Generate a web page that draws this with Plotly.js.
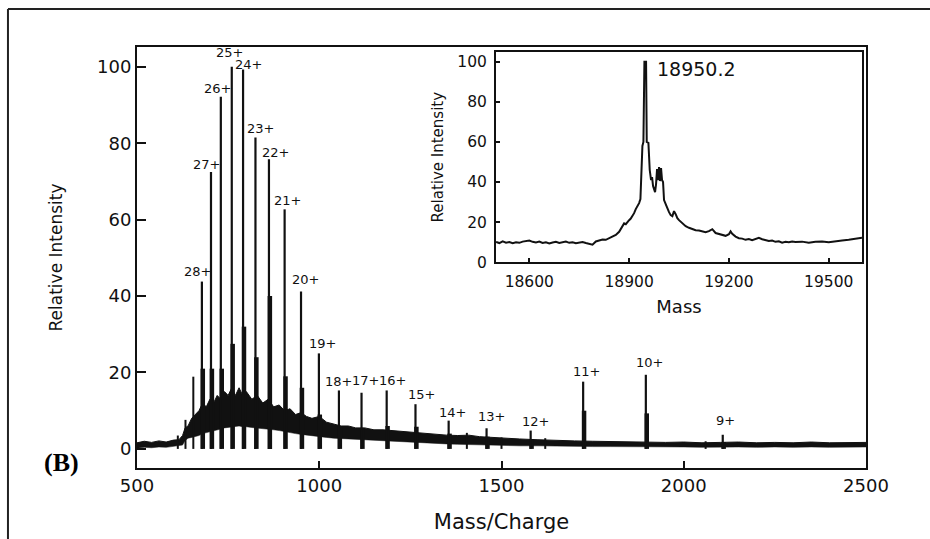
<!DOCTYPE html>
<html>
<head>
<meta charset="utf-8">
<script src="https://cdn.plot.ly/plotly-3.0.1.min.js"></script>
<style>html,body{margin:0;padding:0;background:#fff;}#chart{width:930px;height:539px;}</style>
</head>
<body>
<div id="chart"></div>
<script>
// ---------- DATA ----------
// main charge-state peaks
const peakMz     = [678, 703, 730, 760, 791, 825, 862, 905, 950, 999, 1054, 1116, 1185, 1264, 1355, 1459, 1580, 1724, 1896, 2107];
const peakInt    = [43.8, 72.5, 92.2, 100, 99.3, 81.5, 75.8, 62.7, 41.2, 25.0, 15.3, 14.7, 15.3, 11.7, 7.4, 5.4, 4.8, 17.6, 19.4, 3.7];
const peakLabels = ["28+","27+","26+","25+","24+","23+","22+","21+","20+","19+","18+","17+","16+","15+","14+","13+","12+","11+","10+","9+"];
const shoulderInt = [21, 21, 21, 27.5, 32, 24, 40, 19, 16, 9, 6, 5.5, 6, 5.8, 4, 3.2, 2.5, 10, 9.3, 1.8];
// minor peaks
const minorMz  = [612, 633, 654.5, 1405, 1500, 1620, 2060];
const minorInt = [3.5, 7.6, 18.9, 4.2, 3.0, 2.8, 2.0];
// noisy band of the spectrum (upper / lower envelope)
const bandMz = [500,520,540,560,580,600,615,625,632,640,650,660,670,680,690,700,710,720,730,740,750,760,770,780,790,800,815,830,845,860,875,890,905,920,935,950,965,980,1000,1020,1040,1060,1080,1100,1125,1150,1175,1200,1230,1260,1290,1320,1350,1380,1410,1440,1470,1500,1550,1600,1650,1700,1750,1800,1850,1900,1950,2000,2050,2100,2150,2200,2250,2300,2350,2400,2450,2500];
const bandHi = [1.6,2.0,1.7,2.1,1.8,2.3,2.4,3.5,5.5,6,8,9,10,12,11,13,12,14,13,15,14,16,14,16,14,15,13,14,12,13,11,11.5,10,10.5,9,9.5,8.5,8,8.5,7,6.5,6,6,5.5,5.5,5,5,4.8,4.5,4.3,4.0,3.8,3.6,3.5,3.6,3.2,3.0,2.9,2.6,2.4,2.2,2.1,2.0,1.9,1.8,1.8,1.7,1.8,1.6,1.7,1.8,1.6,1.7,1.6,1.8,1.6,1.7,1.7];
const bandLo = [0.2,0.4,0.3,0.5,0.4,0.6,0.8,1.0,2.2,2.8,3.0,3.2,3.5,4.0,4.2,4.5,4.8,5.0,5.2,5.5,5.6,5.8,5.8,6.0,5.8,5.8,5.6,5.5,5.4,5.2,5.0,4.8,4.5,4.3,4.0,3.8,3.6,3.4,3.2,3.0,2.8,2.7,2.5,2.4,2.3,2.2,2.0,1.9,1.8,1.6,1.5,1.4,1.3,1.2,1.1,1.0,0.9,0.9,0.8,0.8,0.7,0.7,0.6,0.6,0.6,0.5,0.5,0.5,0.4,0.5,0.5,0.4,0.5,0.4,0.5,0.4,0.5,0.5];
// inset: deconvoluted mass spectrum
const insetMass = [18500,18510,18520,18530,18540,18550,18560,18570,18580,18590,18600,18610,18620,18630,18640,18650,18660,18670,18680,18690,18700,18710,18720,18730,18740,18750,18760,18770,18780,18790,18800,18810,18820,18830,18840,18850,18860,18870,18875,18880,18885,18890,18895,18900,18905,18910,18915,18920,18925,18930,18934,18937,18940,18943,18946,18951,18953,18958,18960,18962,18966,18969,18972,18975,18978,18981,18984,18987,18990,18993,18996,18999,19002,19005,19010,19015,19020,19025,19030,19035,19040,19045,19050,19060,19070,19080,19090,19100,19110,19120,19130,19140,19150,19160,19170,19180,19190,19200,19205,19210,19220,19230,19240,19250,19260,19270,19280,19290,19300,19310,19320,19330,19340,19350,19360,19370,19380,19390,19400,19420,19440,19460,19480,19500,19520,19540,19560,19580,19600];
const insetInt  = [10.2,9.6,10.4,9.8,10.1,9.5,10.0,9.7,10.3,10.6,10.8,10.2,9.9,10.3,9.6,10.0,9.4,9.9,10.2,9.6,9.8,10.3,9.7,10.0,9.5,9.9,10.1,9.6,9.2,8.8,10.4,10.9,11.4,11.2,12.0,12.8,13.6,15.2,16.5,18.0,19.4,19.0,20.2,21.0,21.8,23.0,24.5,26.5,28.0,29.5,31.5,45,58,60,100,100,60,59.5,50,46,41,42.5,38,36,35,39,46.5,41,47.5,40.5,47,41,40,31,28.5,27,25,23.5,23,25.5,24,22,21,19.5,18.0,17.2,16.5,16.0,15.8,15.4,15.0,15.5,16.5,14.6,14.2,13.6,13.2,14.0,15.4,14.2,12.8,12.0,11.8,11.2,11.6,11.0,11.8,12.2,11.5,11.0,10.6,10.8,10.2,10.5,9.8,10.2,10.0,10.4,10.1,10.3,9.8,10.2,10.4,10.0,10.6,10.9,11.2,11.6,12.2];
const insetPeakLabel = "18950.2";
const insetPeakMass = 18950.2;
const insetPeakInt = 100;
const mainTicksX = [500, 1000, 1500, 2000, 2500];
const ticksY = [0, 20, 40, 60, 80, 100];
const insetTicksX = [18600, 18900, 19200, 19500];

// ---------- STYLE ----------
const INK = '#111';
const FONT = 'DejaVu Sans, Arial, sans-serif';
const labelDx = [-4,-4,-3,-2,5,5,6.7,3.3,4,4,0,4.3,6.3,5.8,4,5.3,5,3.8,3.3,2.7];
const labelDy = [9.7,7.7,7.7,14,5,9.3,7.3,9.3,11.7,10.3,8.7,12.7,9.7,9.3,7.7,11.3,8.7,9.7,12,14];

// build stick coordinates
function sticks(xs, ys, dx) {
  const sx = [], sy = [];
  xs.forEach((m, i) => { sx.push(m + dx, m + dx, null); sy.push(0, ys[i], null); });
  return {sx, sy};
}
const main = sticks(peakMz, peakInt, 0);
const sh = sticks(peakMz, shoulderInt, 2.5);
const mn = sticks(minorMz, minorInt, 0);

const traces = [
  {x: bandMz, y: bandLo, type: 'scatter', mode: 'lines', line: {color: INK, width: 0.5}, hoverinfo: 'skip'},
  {x: bandMz, y: bandHi, type: 'scatter', mode: 'lines', fill: 'tonexty', fillcolor: INK, line: {color: INK, width: 1}, hoverinfo: 'skip'},
  {x: sh.sx, y: sh.sy, type: 'scatter', mode: 'lines', line: {color: INK, width: 4.5}, connectgaps: false},
  {x: main.sx, y: main.sy, type: 'scatter', mode: 'lines', line: {color: INK, width: 2.2}, connectgaps: false},
  {x: mn.sx, y: mn.sy, type: 'scatter', mode: 'lines', line: {color: INK, width: 2}, connectgaps: false},
  {x: insetMass, y: insetInt, xaxis: 'x2', yaxis: 'y2', type: 'scatter', mode: 'lines', line: {color: INK, width: 2}}
];

const annotations = peakLabels.map((t, i) => ({
  x: peakMz[i], y: peakInt[i], xref: 'x', yref: 'y', text: t, showarrow: false,
  xanchor: 'center', yanchor: 'middle', xshift: labelDx[i], yshift: labelDy[i],
  font: {family: FONT, size: 13, color: INK}
}));
annotations.push({
  x: insetPeakMass, y: insetPeakInt, xref: 'x2', yref: 'y2', text: insetPeakLabel, showarrow: false,
  xanchor: 'left', yanchor: 'middle', xshift: 9, yshift: -7,
  font: {family: FONT, size: 19, color: INK}
});
annotations.push({
  x: -0.104, y: 0.014, xref: 'paper', yref: 'paper', text: '<b>(B)</b>', showarrow: false,
  xanchor: 'center', yanchor: 'middle',
  font: {family: 'Liberation Serif, Times New Roman, serif', size: 26, color: '#000'}
});

const axisBase = {showline: true, linewidth: 2, linecolor: INK, mirror: true, showgrid: false, zeroline: false, ticks: 'inside', tickwidth: 2, tickcolor: INK};

const layout = {
  width: 930, height: 539,
  margin: {l: 137, r: 64, t: 47, b: 71, pad: 0},
  paper_bgcolor: '#fff', plot_bgcolor: '#fff',
  showlegend: false,
  font: {family: FONT, size: 18, color: INK},
  xaxis: Object.assign({}, axisBase, {
    range: [500, 2500], tickvals: mainTicksX, ticklen: 7,
    tickfont: {family: FONT, size: 18, color: INK}, ticklabelstandoff: 0,
    title: {text: 'Mass/Charge', font: {family: FONT, size: 21, color: INK}, standoff: 20}
  }),
  yaxis: Object.assign({}, axisBase, {
    range: [-5, 105.2], tickvals: ticksY, ticklen: 9,
    tickfont: {family: FONT, size: 18, color: INK}, ticklabelstandoff: 0,
    title: {text: 'Relative Intensity', font: {family: FONT, size: 17, color: INK}, standoff: 30}
  }),
  xaxis2: Object.assign({}, axisBase, {
    domain: [0.4925, 0.9945], anchor: 'y2', range: [18500, 19600], tickvals: insetTicksX, ticklen: 4,
    tickformat: 'd',
    tickfont: {family: FONT, size: 15.5, color: INK}, ticklabelstandoff: 4,
    title: {text: 'Mass', font: {family: FONT, size: 18, color: INK}, standoff: 11}
  }),
  yaxis2: Object.assign({}, axisBase, {
    domain: [0.4886, 0.988], anchor: 'x2', range: [0, 104.8], tickvals: ticksY, ticklen: 4,
    tickfont: {family: FONT, size: 15.5, color: INK}, ticklabelstandoff: 4,
    title: {text: 'Relative Intensity', font: {family: FONT, size: 15, color: INK}, standoff: 10}
  }),
  annotations: annotations,
  shapes: [
    {type: 'line', xref: 'paper', yref: 'paper', x0: -0.177, x1: 1.3, y0: 1.0903, y1: 1.0903, line: {color: '#222', width: 2}},
    {type: 'line', xref: 'paper', yref: 'paper', x0: -0.177, x1: -0.177, y0: -0.3, y1: 1.0903, line: {color: '#222', width: 2}}
  ]
};

Plotly.newPlot('chart', traces, layout, {staticPlot: true, displayModeBar: false});
</script>
</body>
</html>
